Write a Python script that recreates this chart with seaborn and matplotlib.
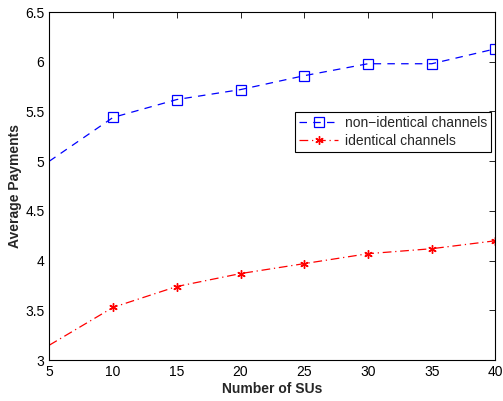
import matplotlib
matplotlib.use('Agg')
import matplotlib.pyplot as plt
import pandas as pd
import seaborn as sns

num_sus = [5, 10, 15, 20, 25, 30, 35, 40]
non_identical = [5.00, 5.44, 5.62, 5.72, 5.86, 5.98, 5.98, 6.13]
identical = [3.15, 3.53, 3.74, 3.87, 3.97, 4.07, 4.12, 4.20]

sns.set_style('white')
plt.rcParams['font.family'] = ['Liberation Sans', 'DejaVu Sans']

df = pd.DataFrame({
    'Number of SUs': num_sus * 2,
    'Average Payments': non_identical + identical,
    'series': ['non\u2212identical channels'] * 8 + ['identical channels'] * 8,
})

fig = plt.figure(figsize=(5.03, 4.01), dpi=100)
ax = fig.add_axes([0.098, 0.102, 0.887, 0.868])

d1 = df[df['series'] == 'non\u2212identical channels']
d2 = df[df['series'] == 'identical channels']
# no marker on the first point (x=5), as in the original
sns.lineplot(data=d1, x='Number of SUs', y='Average Payments', ax=ax,
             color='blue', linestyle=(0, (6, 5)), linewidth=0.9, marker='s',
             markersize=7, markerfacecolor='none', markeredgecolor='blue',
             markeredgewidth=0.9, markevery=list(range(1, 8)),
             label='non\u2212identical channels')
sns.lineplot(data=d2, x='Number of SUs', y='Average Payments', ax=ax,
             color='red', linestyle=(0, (7, 3, 1, 3)), linewidth=0.9,
             marker=(6, 2, 0), markersize=6, markeredgecolor='red',
             markeredgewidth=1.0, markevery=list(range(1, 8)),
             label='identical channels')

ax.set_xlim(5, 40)
ax.set_ylim(3, 6.5)
ax.set_xticks(range(5, 41, 5))
ax.set_yticks([3, 3.5, 4, 4.5, 5, 5.5, 6, 6.5])
ax.set_yticklabels(['3', '3.5', '4', '4.5', '5', '5.5', '6', '6.5'])
ax.tick_params(direction='in', top=True, right=True, length=4, width=0.6,
               labelsize=10, colors='black')
for s in ax.spines.values():
    s.set_linewidth(0.8)
    s.set_color('black')
ax.set_xlabel('Number of SUs', fontsize=10, fontweight='bold', labelpad=2)
ax.set_ylabel('Average Payments', fontsize=10, fontweight='bold', labelpad=2)

leg = ax.legend(loc='upper left', bbox_to_anchor=(0.535, 0.733), fontsize=10,
                frameon=True, fancybox=False, framealpha=1, edgecolor='black',
                borderpad=0.3, handlelength=2.8, labelspacing=0.3,
                handletextpad=0.5)
leg.get_frame().set_linewidth(0.8)

fig.savefig('out.png', dpi=100)
